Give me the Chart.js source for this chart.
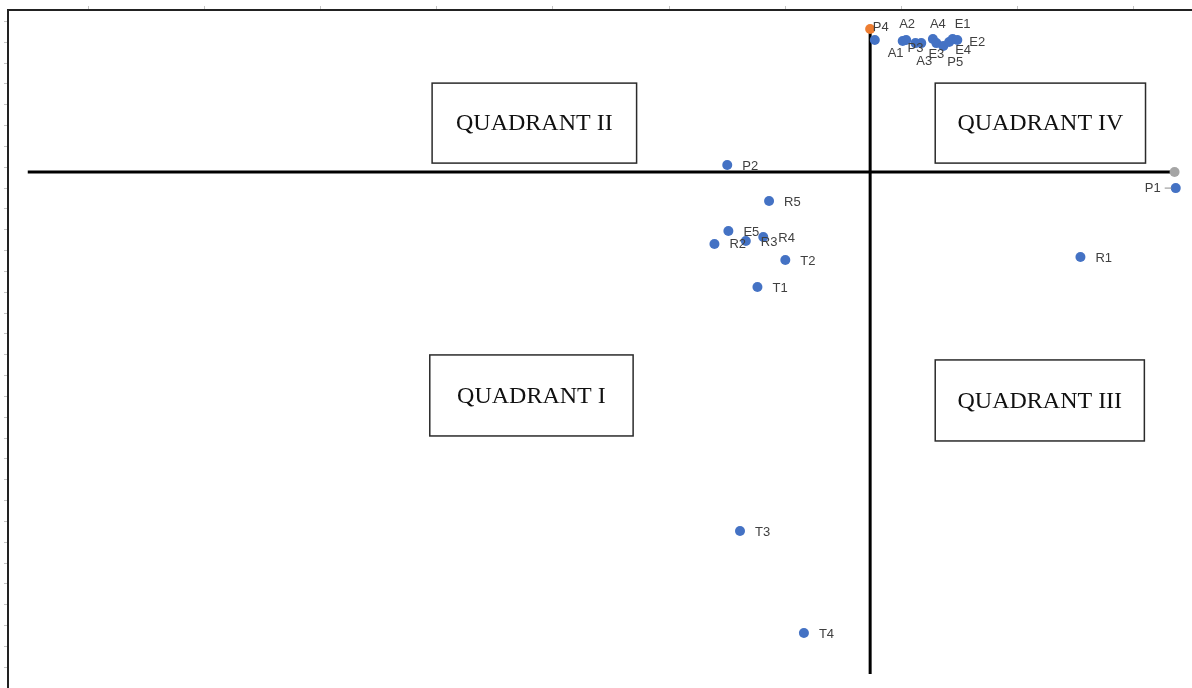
<!DOCTYPE html>
<html>
<head>
<meta charset="utf-8">
<script src="https://cdn.jsdelivr.net/npm/chart.js@4/dist/chart.umd.min.js"></script>
<style>
  body { margin: 0; background: #fff; }
  canvas { display: block; }
</style>
</head>
<body>
<canvas id="quadrantChart" width="1192" height="688"></canvas>
<script>
// rotulos dos pontos
const rotulos = ['P4', 'A1', 'A2', 'P3', 'A3', 'A4', 'E3', 'P5', 'E4', 'E1', 'E2',
                 'P2', 'R5', 'E5', 'R2', 'R3', 'R4', 'T2', 'T1', 'R1', 'T3', 'T4', 'P1'];
// valores (unidades = marcas dos eixos)
const valoresX = [6.77, 7.01, 7.04, 7.12, 7.17, 7.27, 7.30, 7.36, 7.41, 7.44, 7.48,
                  5.50, 5.86, 5.51, 5.39, 5.66, 5.81, 6.00, 5.76, 8.54, 5.61, 6.16, 9.36];
const valoresY = [31.11, 31.06, 31.11, 30.96, 30.96, 31.16, 30.96, 30.82, 31.01, 31.16, 31.11,
                  25.11, 23.38, 21.94, 21.32, 21.46, 21.65, 20.55, 19.25, 20.69, 7.54, 2.64, 24.00];

// linhas dos quadrantes
const linhaVerticalX = [6.73, 6.73];
const linhaVerticalY = [31.64, 0.67];
const linhaHorizontalX = [-0.52, 9.35];
const linhaHorizontalY = [24.77, 24.77];

// caixas dos quadrantes: [texto, x1, x2, y1, y2]
const quadrantes = [
    ['QUADRANT II', 2.96, 4.72, 29.04, 25.20],
    ['QUADRANT IV', 7.29, 9.10, 29.04, 25.20],
    ['QUADRANT I', 2.94, 4.69, 15.99, 12.10],
    ['QUADRANT III', 7.29, 9.09, 15.75, 11.86]
];

// deslocamento dos rotulos (px) em relacao ao ponto
const deslocRotulo = {
    P4: [-2, -13], A1: [-15, 12], A2: [-7, -16], P3: [-8, 5], A3: [-5, 18],
    A4: [-3, -15], E3: [-8, 11], P5: [4, 16], E4: [6, 8], E1: [2, -15],
    E2: [12, 2], P1: [-31, 0]
};
const rotulosComLinha = ['P1'];

const caixasPlugin = {
    id: 'caixas',
    beforeDatasetsDraw(chart) {
        const ctx = chart.ctx;
        const sx = chart.scales.x, sy = chart.scales.y;
        ctx.save();
        quadrantes.forEach(q => {
            const x1 = sx.getPixelForValue(q[1]), x2 = sx.getPixelForValue(q[2]);
            const y1 = sy.getPixelForValue(q[3]), y2 = sy.getPixelForValue(q[4]);
            ctx.fillStyle = '#fff';
            ctx.fillRect(x1, y1, x2 - x1, y2 - y1);
            ctx.strokeStyle = '#2b2b2b';
            ctx.lineWidth = 1.5;
            ctx.strokeRect(x1, y1, x2 - x1, y2 - y1);
            ctx.fillStyle = '#111';
            ctx.font = '24px "Liberation Serif", "DejaVu Serif", serif';
            ctx.textAlign = 'center';
            ctx.textBaseline = 'middle';
            ctx.fillText(q[0], (x1 + x2) / 2, (y1 + y2) / 2 + 1);
        });
        ctx.restore();
    }
};

const rotulosPlugin = {
    id: 'rotulos',
    afterDatasetsDraw(chart) {
        const ctx = chart.ctx;
        const meta = chart.getDatasetMeta(0);
        ctx.save();
        ctx.font = '13px "Liberation Sans", Arial, sans-serif';
        ctx.fillStyle = '#404040';
        ctx.textAlign = 'left';
        ctx.textBaseline = 'middle';
        meta.data.forEach((pt, i) => {
            const nome = rotulos[i];
            const d = deslocRotulo[nome] || [15, 1];
            ctx.fillText(nome, pt.x + d[0], pt.y + d[1]);
            if (rotulosComLinha.includes(nome)) {
                ctx.strokeStyle = '#8c8c8c';
                ctx.lineWidth = 1;
                ctx.beginPath();
                ctx.moveTo(pt.x - 11, pt.y);
                ctx.lineTo(pt.x - 4, pt.y);
                ctx.stroke();
            }
        });
        ctx.restore();
    }
};

let pontos = [];
for (let i = 0; i < rotulos.length; i++) {
    pontos.push({ x: valoresX[i], y: valoresY[i] });
}

const config = {
    type: 'scatter',
    data: {
        datasets: [{
            label: 'pontos',
            data: pontos,
            backgroundColor: '#4472C4',
            borderColor: '#4472C4',
            pointRadius: 5,
            pointBorderWidth: 0,
            clip: false
        },
        {
            label: 'vertical',
            data: linhaVerticalX.map((v, i) => ({ x: v, y: linhaVerticalY[i] })),
            showLine: true,
            borderColor: '#000',
            borderWidth: 3,
            pointRadius: [5, 0],
            pointBackgroundColor: '#ED7D31',
            pointBorderWidth: 0,
            clip: false
        },
        {
            label: 'horizontal',
            data: linhaHorizontalX.map((v, i) => ({ x: v, y: linhaHorizontalY[i] })),
            showLine: true,
            borderColor: '#000',
            borderWidth: 3,
            pointRadius: [0, 5],
            pointBackgroundColor: '#A5A5A5',
            pointBorderWidth: 0,
            clip: false
        }]
    },
    options: {
        responsive: false,
        animation: false,
        devicePixelRatio: 1,
        layout: { autoPadding: false, padding: { left: 4, top: 6, right: 0, bottom: 0 } },
        plugins: {
            legend: { display: false },
            tooltip: { enabled: false }
        },
        scales: {
            x: {
                type: 'linear',
                position: 'top',
                min: -0.69,
                max: 9.5,
                ticks: { display: false, stepSize: 1, includeBounds: false },
                grid: { drawOnChartArea: false, tickLength: 4, tickColor: '#c4c4c4' },
                border: { color: '#222', width: 2 }
            },
            y: {
                type: 'linear',
                position: 'left',
                min: 0,
                max: 32.55,
                ticks: { display: false, stepSize: 1, includeBounds: false },
                grid: { drawOnChartArea: false, tickLength: 4, tickColor: '#c4c4c4' },
                border: { color: '#222', width: 2 }
            }
        }
    },
    plugins: [caixasPlugin, rotulosPlugin]
};

let myChart = new Chart(document.getElementById('quadrantChart'), config);
</script>
</body>
</html>
